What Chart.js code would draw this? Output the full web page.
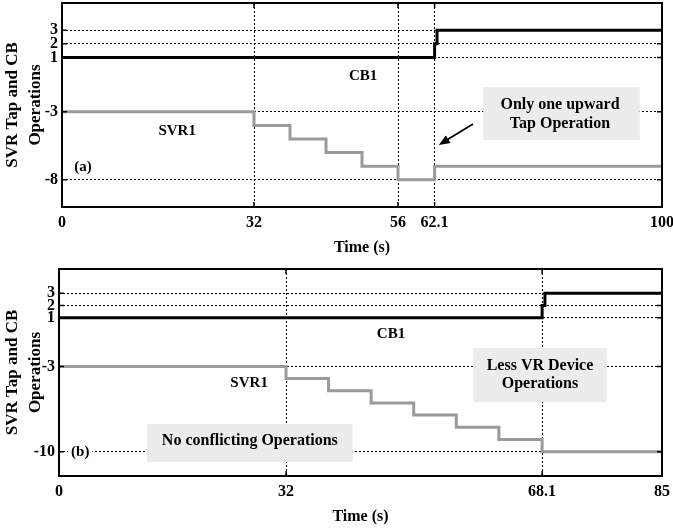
<!DOCTYPE html>
<html>
<head>
<meta charset="utf-8">
<script src="https://cdn.jsdelivr.net/npm/chart.js@4.4.1/dist/chart.umd.min.js"></script>
<style>
  html, body { margin: 0; padding: 0; background: #fff; }
  body { width: 673px; height: 531px; position: relative; overflow: hidden; }
  .panel { position: absolute; left: 0; width: 673px; }
  #panelA { top: 0; height: 262px; }
  #panelB { top: 262px; height: 269px; }
</style>
</head>
<body>
<div class="panel" id="panelA"><canvas id="chartA"></canvas></div>
<div class="panel" id="panelB"><canvas id="chartB"></canvas></div>
<script>
// ── panel (a) data ──
const svrTimesA = [0, 32, 38, 44, 50, 56, 62.1, 100];
const svrTapsA  = [-3, -4, -5, -6, -7, -8, -7, -7];
const cbTimesA  = [0, 62.1, 62.5, 100];
const cbStepsA  = [1, 2, 3, 3];
const xTicksA   = [0, 32, 56, 62.1, 100];
const yTicksA   = [3, 2, 1, -3, -8];

// ── panel (b) data ──
const svrTimesB = [0, 32, 38, 44, 50, 56, 62, 68.1, 85];
const svrTapsB  = [-3, -4, -5, -6, -7, -8, -9, -10, -10];
const cbTimesB  = [0, 68.1, 68.5, 85];
const cbStepsB  = [1, 2, 3, 3];
const xTicksB   = [0, 32, 68.1, 85];
const yTicksB   = [3, 2, 1, -3, -10];

const SERIF = '"Liberation Serif", "Times New Roman", serif';
const toPts = (xs, ys) => xs.map((x, i) => ({ x, y: ys[i] }));

// boxes, labels and arrow drawn on top of the grid (positions in data units)
const notesPlugin = {
  id: 'notes',
  beforeDatasetsDraw(chart, args, opts) {
    const { ctx, scales: { x, y } } = chart;
    ctx.save();
    ctx.fillStyle = '#ececec';
    (opts.boxes || []).forEach(b => {
      const x1 = x.getPixelForValue(b.x1), x2 = x.getPixelForValue(b.x2);
      const y1 = y.getPixelForValue(b.y1), y2 = y.getPixelForValue(b.y2);
      ctx.fillRect(x1, y1, x2 - x1, y2 - y1);
    });
    ctx.restore();
  },
  afterDatasetsDraw(chart, args, opts) {
    const { ctx, chartArea: a, scales: { x, y } } = chart;
    ctx.save();
    ctx.textAlign = 'center';
    ctx.textBaseline = 'middle';
    (opts.labels || []).forEach(l => {
      const px = x.getPixelForValue(l.x), py = y.getPixelForValue(l.y);
      ctx.font = `bold ${l.size}px ${SERIF}`;
      if (l.bg) {
        const w = ctx.measureText(l.text).width;
        ctx.fillStyle = '#fff';
        ctx.fillRect(px - w / 2 - 3, py - l.size / 2, w + 6, l.size);
      }
      ctx.fillStyle = '#000';
      ctx.fillText(l.text, px, py);
    });

    (opts.arrows || []).forEach(ar => {
      const px1 = x.getPixelForValue(ar.x1), py1 = y.getPixelForValue(ar.y1);
      const px2 = x.getPixelForValue(ar.x2), py2 = y.getPixelForValue(ar.y2);
      const ang = Math.atan2(py2 - py1, px2 - px1);
      ctx.strokeStyle = '#000';
      ctx.fillStyle = '#000';
      ctx.lineWidth = 1.8;
      ctx.beginPath();
      ctx.moveTo(px1, py1);
      ctx.lineTo(px2 - 6 * Math.cos(ang), py2 - 6 * Math.sin(ang));
      ctx.stroke();
      ctx.beginPath();
      ctx.moveTo(px2, py2);
      ctx.lineTo(px2 - 11 * Math.cos(ang) + 4.5 * Math.sin(ang), py2 - 11 * Math.sin(ang) - 4.5 * Math.cos(ang));
      ctx.lineTo(px2 - 11 * Math.cos(ang) - 4.5 * Math.sin(ang), py2 - 11 * Math.sin(ang) + 4.5 * Math.cos(ang));
      ctx.closePath();
      ctx.fill();
    });

    // frame + short inward tick marks
    ctx.strokeStyle = '#000';
    ctx.lineWidth = 1.5;
    x.ticks.forEach(t => {
      const px = x.getPixelForValue(t.value);
      ctx.beginPath();
      ctx.moveTo(px, a.bottom); ctx.lineTo(px, a.bottom - 5);
      ctx.moveTo(px, a.top); ctx.lineTo(px, a.top + 5);
      ctx.stroke();
    });
    y.ticks.forEach(t => {
      const py = y.getPixelForValue(t.value);
      ctx.beginPath();
      ctx.moveTo(a.left, py); ctx.lineTo(a.left + 5, py);
      ctx.moveTo(a.right, py); ctx.lineTo(a.right - 5, py);
      ctx.stroke();
    });
    ctx.lineWidth = 2;
    ctx.strokeRect(a.left, a.top, a.right - a.left, a.bottom - a.top);
    ctx.restore();
  }
};

function makePanel(id, p) {
  const tickFont = { family: SERIF, size: 16, weight: 'bold' };
  return new Chart(document.getElementById(id), {
    type: 'scatter',
    data: {
      datasets: [
        { label: 'SVR1', data: toPts(p.svrTimes, p.svrTaps), borderColor: '#9a9a9a', borderWidth: 3,
          stepped: true, showLine: true, pointRadius: 0, fill: false },
        { label: 'CB1', data: toPts(p.cbTimes, p.cbSteps), borderColor: '#000', borderWidth: 3,
          stepped: true, showLine: true, pointRadius: 0, fill: false }
      ]
    },
    options: {
      responsive: true, maintainAspectRatio: false, animation: false,
      layout: { padding: { top: p.padTop, right: 11, left: 0, bottom: 0 } },
      plugins: { legend: { display: false }, tooltip: { enabled: false }, notes: p.notes },
      scales: {
        x: {
          type: 'linear', min: 0, max: p.xMax,
          afterBuildTicks: s => { s.ticks = p.xTicks.map(v => ({ value: v })); },
          afterFit: s => { s.height = 55; s.paddingLeft = 0; s.paddingRight = 0; },
          grid: { color: '#000', lineWidth: 1, drawTicks: false },
          border: { display: false, dash: [2, 2] },
          ticks: { autoSkip: false, maxRotation: 0, padding: 6, color: '#000', font: tickFont,
                   callback: v => String(v) },
          title: { display: true, text: 'Time (s)', color: '#000', font: tickFont,
                   padding: { top: 0, bottom: 5 } }
        },
        y: {
          type: 'linear', min: p.yMin, max: 5,
          afterBuildTicks: s => { s.ticks = p.yTicks.map(v => ({ value: v })); },
          afterFit: s => { s.width = p.left; s.paddingTop = 0; s.paddingBottom = 0; },
          grid: { color: '#000', lineWidth: 1, drawTicks: false },
          border: { display: false, dash: [2, 2] },
          ticks: { autoSkip: false, padding: 4, color: '#000', font: tickFont,
                   callback: v => String(v) },
          title: { display: true, text: ['SVR Tap and CB', 'Operations'], color: '#000',
                   font: { family: SERIF, size: 17, weight: 'bold', lineHeight: 1.3 },
                   padding: { top: 2, bottom: 0 } }
        }
      }
    },
    plugins: [notesPlugin]
  });
}

// ── (a) ──
makePanel('chartA', {
  svrTimes: svrTimesA, svrTaps: svrTapsA, cbTimes: cbTimesA, cbSteps: cbStepsA,
  xTicks: xTicksA, yTicks: yTicksA, xMax: 100, yMin: -10, padTop: 3, left: 62,
  notes: {
    boxes: [{ x1: 70.2, x2: 96.3, y1: -1.18, y2: -5.07 }],
    labels: [
      { text: 'CB1', x: 50.2, y: -0.4, size: 15 },
      { text: 'SVR1', x: 19.2, y: -4.41, size: 15 },
      { text: '(a)', x: 3.5, y: -7.06, size: 15 },
      { text: 'Only one upward', x: 83, y: -2.5, size: 16 },
      { text: 'Tap Operation', x: 83, y: -3.9, size: 16 }
    ],
    arrows: [{ x1: 68.5, y1: -3.9, x2: 62.8, y2: -5.44 }]
  }
});

// ── (b) ──
makePanel('chartB', {
  svrTimes: svrTimesB, svrTaps: svrTapsB, cbTimes: cbTimesB, cbSteps: cbStepsB,
  xTicks: xTicksB, yTicks: yTicksB, xMax: 85, yMin: -12, padTop: 7, left: 59,
  notes: {
    boxes: [
      { x1: 12.4, x2: 41.4, y1: -7.73, y2: -10.85 },
      { x1: 58.4, x2: 77.2, y1: -1.49, y2: -5.92 }
    ],
    labels: [
      { text: 'CB1', x: 46.8, y: -0.34, size: 15 },
      { text: 'SVR1', x: 26.8, y: -4.36, size: 15 },
      { text: '(b)', x: 3.0, y: -10.02, size: 15, bg: true },
      { text: 'No conflicting Operations', x: 26.9, y: -9.12, size: 16 },
      { text: 'Less VR Device', x: 67.8, y: -2.96, size: 16 },
      { text: 'Operations', x: 67.8, y: -4.44, size: 16 }
    ]
  }
});
</script>
</body>
</html>
